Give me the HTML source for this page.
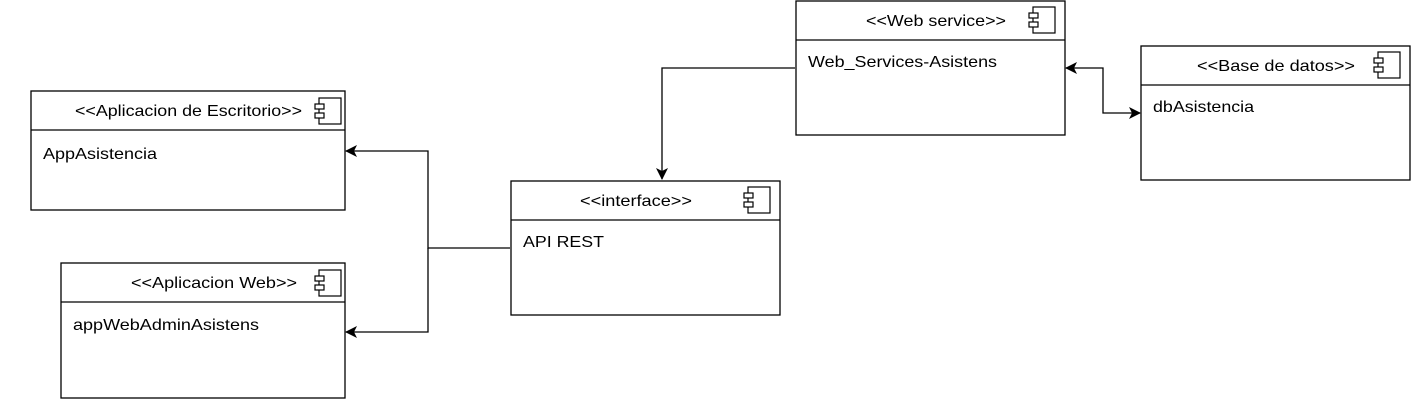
<!DOCTYPE html>
<html><head><meta charset="utf-8"><style>html,body{margin:0;padding:0;background:#fff}</style></head>
<body>
<svg width="1412" height="401" viewBox="0 0 1412 401" xmlns="http://www.w3.org/2000/svg" font-family="Liberation Sans, Arial, sans-serif" font-size="16">
<defs>
<marker id="a" markerWidth="12" markerHeight="12" refX="11" refY="6" orient="auto" markerUnits="userSpaceOnUse">
<path d="M0,0 L12,6 L0,12 L3,6 Z" fill="#000"/></marker>
</defs>
<g fill="none" stroke="#000" stroke-width="1.3">
<rect x="31" y="91" width="314" height="119"/><line x1="31" y1="130" x2="345" y2="130"/>
<rect x="61" y="263" width="284" height="135"/><line x1="61" y1="302" x2="345" y2="302"/>
<rect x="511" y="181" width="269" height="134"/><line x1="511" y1="220" x2="780" y2="220"/>
<rect x="796" y="1" width="269" height="134"/><line x1="796" y1="40" x2="1065" y2="40"/>
<rect x="1141" y="46" width="269" height="134"/><line x1="1141" y1="85" x2="1410" y2="85"/>
<polyline points="795,68 662,68 662,179" marker-end="url(#a)"/>
<polyline points="510,248 428,248 428,151 346,151" marker-end="url(#a)"/>
<polyline points="428,248 428,332 346,332" marker-end="url(#a)"/>
<polyline points="1103,90 1103,68 1066,68" marker-end="url(#a)"/>
<polyline points="1103,90 1103,113 1140,113" marker-end="url(#a)"/>
</g>
<g fill="#fff" stroke="#000" stroke-width="1.2">
<g transform="translate(315,98)"><rect x="4" y="0" width="22" height="26"/><rect x="0" y="6" width="9" height="5"/><rect x="0" y="15" width="9" height="5"/></g>
<g transform="translate(315,270)"><rect x="4" y="0" width="22" height="26"/><rect x="0" y="6" width="9" height="5"/><rect x="0" y="15" width="9" height="5"/></g>
<g transform="translate(744,187)"><rect x="4" y="0" width="22" height="26"/><rect x="0" y="6" width="9" height="5"/><rect x="0" y="15" width="9" height="5"/></g>
<g transform="translate(1029,7)"><rect x="4" y="0" width="22" height="26"/><rect x="0" y="6" width="9" height="5"/><rect x="0" y="15" width="9" height="5"/></g>
<g transform="translate(1374,52)"><rect x="4" y="0" width="22" height="26"/><rect x="0" y="6" width="9" height="5"/><rect x="0" y="15" width="9" height="5"/></g>
</g>
<g fill="#000">
<text x="75" y="116" textLength="227" lengthAdjust="spacingAndGlyphs">&lt;&lt;Aplicacion de Escritorio&gt;&gt;</text>
<text x="43" y="159" textLength="114" lengthAdjust="spacingAndGlyphs">AppAsistencia</text>
<text x="131" y="288" textLength="166" lengthAdjust="spacingAndGlyphs">&lt;&lt;Aplicacion Web&gt;&gt;</text>
<text x="73" y="330" textLength="186" lengthAdjust="spacingAndGlyphs">appWebAdminAsistens</text>
<text x="580" y="206" textLength="112" lengthAdjust="spacingAndGlyphs">&lt;&lt;interface&gt;&gt;</text>
<text x="523" y="247" textLength="81" lengthAdjust="spacingAndGlyphs">API REST</text>
<text x="866" y="26" textLength="140" lengthAdjust="spacingAndGlyphs">&lt;&lt;Web service&gt;&gt;</text>
<text x="808" y="67" textLength="189" lengthAdjust="spacingAndGlyphs">Web_Services-Asistens</text>
<text x="1197" y="71" textLength="158" lengthAdjust="spacingAndGlyphs">&lt;&lt;Base de datos&gt;&gt;</text>
<text x="1153" y="112" textLength="101" lengthAdjust="spacingAndGlyphs">dbAsistencia</text>
</g>
</svg>
</body></html>
